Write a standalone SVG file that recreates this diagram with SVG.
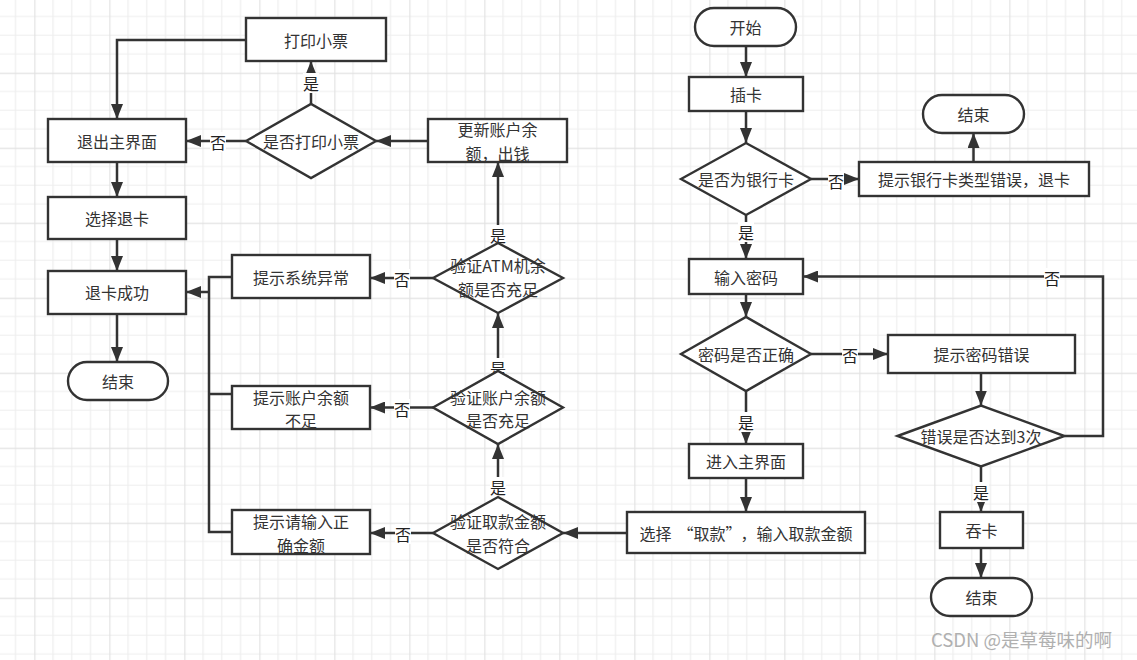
<svg xmlns="http://www.w3.org/2000/svg" width="1137" height="660" viewBox="0 0 1137 660">
<style>
.box{fill:#fff;stroke:#333;stroke-width:2.4}
.t{font-family:"Noto Sans CJK SC","Liberation Sans",sans-serif;font-size:16px;fill:#333;text-anchor:middle;dominant-baseline:central}
.c{fill:none;stroke:#333;stroke-width:2.5;marker-end:url(#ah)}
.cn{fill:none;stroke:#333;stroke-width:2.5}
.lb{fill:#fff}
.lt{font-family:"Noto Sans CJK SC","Liberation Sans",sans-serif;font-size:16px;fill:#222;text-anchor:middle;dominant-baseline:central}
</style>
<defs>
<pattern id="grid" x="34.3" y="72.7" width="75" height="75" patternUnits="userSpaceOnUse">
<path d="M18.75 0V75M37.5 0V75M56.25 0V75M0 18.75H75M0 37.5H75M0 56.25H75" stroke="#eeeeee" stroke-width="1.2" fill="none"/>
<path d="M0.6 0V75M0 0.6H75" stroke="#e2e2e2" stroke-width="1.2" fill="none"/>
</pattern>
<marker id="ah" markerUnits="userSpaceOnUse" markerWidth="15" markerHeight="12" refX="15" refY="6" orient="auto">
<path d="M0,0 L15,6 L0,12 z" fill="#333"/>
</marker>
</defs>
<rect width="1137" height="660" fill="#fff"/>
<rect width="1137" height="660" fill="url(#grid)"/>

<g id="connectors">
<path class="c" d="M746 46V77"/>
<path class="c" d="M746 111V143"/>
<path class="c" d="M811 179H859"/>
<path class="c" d="M973.5 162V133"/>
<path class="c" d="M746 215V259"/>
<path class="c" d="M746 294V317"/>
<path class="c" d="M811 354H888"/>
<path class="c" d="M981 373V405.5"/>
<path class="c" d="M1064.5 436H1103V276.5H803"/>
<path class="c" d="M981 466.5V512"/>
<path class="c" d="M981 548V578"/>
<path class="c" d="M746 391V444"/>
<path class="c" d="M746 478V512"/>
<path class="c" d="M627 533H563"/>
<path class="c" d="M433 533H370"/>
<path class="c" d="M498 497V444"/>
<path class="c" d="M433 407.5H370"/>
<path class="c" d="M498 371V313"/>
<path class="c" d="M433 278H370"/>
<path class="c" d="M498 243V162"/>
<path class="c" d="M428 141H376"/>
<path class="c" d="M246 141H186"/>
<path class="c" d="M311 104V61"/>
<path class="c" d="M246 40H117V119"/>
<path class="c" d="M117 162V197"/>
<path class="c" d="M117 239V271"/>
<path class="c" d="M117 314V362"/>
<path class="cn" d="M232 277H209V532H232M232 394H209"/>
<path class="c" d="M209 292H186"/>
<g id="labels">
<rect class="lb" x="828" y="171" width="16" height="20"/><text class="lt" x="836" y="181">否</text>
<rect class="lb" x="738" y="222" width="16" height="20"/><text class="lt" x="746" y="232">是</text>
<rect class="lb" x="842" y="345" width="16" height="20"/><text class="lt" x="850" y="355">否</text>
<rect class="lb" x="1044" y="268" width="16" height="20"/><text class="lt" x="1052" y="278">否</text>
<rect class="lb" x="973" y="482" width="16" height="20"/><text class="lt" x="981" y="492">是</text>
<rect class="lb" x="738" y="412" width="16" height="20"/><text class="lt" x="746" y="422">是</text>
<rect class="lb" x="395" y="524" width="16" height="20"/><text class="lt" x="403" y="534">否</text>
<rect class="lb" x="490" y="477" width="16" height="20"/><text class="lt" x="498" y="487">是</text>
<rect class="lb" x="394" y="399" width="16" height="20"/><text class="lt" x="402" y="409">否</text>
<rect class="lb" x="490" y="358" width="16" height="20"/><text class="lt" x="498" y="368">是</text>
<rect class="lb" x="394" y="269" width="16" height="20"/><text class="lt" x="402" y="279">否</text>
<rect class="lb" x="490" y="225" width="16" height="20"/><text class="lt" x="498" y="235">是</text>
<rect class="lb" x="210" y="132" width="16" height="20"/><text class="lt" x="218" y="142">否</text>
<rect class="lb" x="303" y="73" width="16" height="20"/><text class="lt" x="311" y="83">是</text>
</g>
</g>

<g id="n_print"><rect class="box" x="246" y="18" width="140" height="43"/><text class="t" x="316" y="40">打印小票</text></g>
<g id="n_exit"><rect class="box" x="48" y="119" width="138" height="43"/><text class="t" x="117" y="141">退出主界面</text></g>
<g id="d_print"><polygon class="box" points="246,141 311,104 376,141 311,178"/><text class="t" x="311" y="141">是否打印小票</text></g>
<g id="n_selquit"><rect class="box" x="48" y="197" width="138" height="42"/><text class="t" x="117" y="218">选择退卡</text></g>
<g id="n_quitok"><rect class="box" x="48" y="271" width="138" height="43"/><text class="t" x="117" y="292">退卡成功</text></g>
<g id="n_end1"><rect class="box" x="68" y="362" width="100" height="38" rx="19"/><text class="t" x="118" y="381">结束</text></g>
<g id="n_update"><rect class="box" x="428" y="119" width="139" height="43"/><text class="t"><tspan x="497.5" y="129">更新账户余</tspan><tspan x="497.5" dy="23.5">额，出钱</tspan></text></g>
<g id="d_atm"><polygon class="box" points="433,278 498,243 563,278 498,313"/><text class="t"><tspan x="498" y="265">验证ATM机余</tspan><tspan x="498" dy="23.5">额是否充足</tspan></text></g>
<g id="n_syserr"><rect class="box" x="232" y="255" width="138" height="43"/><text class="t" x="301" y="276.5">提示系统异常</text></g>
<g id="d_bal"><polygon class="box" points="433,407.5 498,371 563,407.5 498,444"/><text class="t"><tspan x="498" y="396.5">验证账户余额</tspan><tspan x="498" dy="23.5">是否充足</tspan></text></g>
<g id="n_balerr"><rect class="box" x="232" y="386" width="138" height="43"/><text class="t"><tspan x="301" y="396.5">提示账户余额</tspan><tspan x="301" dy="23.5">不足</tspan></text></g>
<g id="d_amt"><polygon class="box" points="433,533 498,497 563,533 498,569"/><text class="t"><tspan x="498" y="521">验证取款金额</tspan><tspan x="498" dy="23.5">是否符合</tspan></text></g>
<g id="n_amterr"><rect class="box" x="232" y="510" width="138" height="44"/><text class="t"><tspan x="301" y="521">提示请输入正</tspan><tspan x="301" dy="23.5">确金额</tspan></text></g>
<g id="n_select"><rect class="box" x="627" y="512" width="238" height="41"/><text class="t" x="746" y="532.5">选择<tspan dx="6">“</tspan>取款”<tspan dx="7">，</tspan>输入取款金额</text></g>
<g id="n_start"><rect class="box" x="695" y="8" width="101" height="38" rx="19"/><text class="t" x="745.5" y="27">开始</text></g>
<g id="n_insert"><rect class="box" x="689" y="77" width="114" height="34"/><text class="t" x="746" y="94">插卡</text></g>
<g id="d_bank"><polygon class="box" points="681,179 746,143 811,179 746,215"/><text class="t" x="746" y="179">是否为银行卡</text></g>
<g id="n_cardtype"><rect class="box" x="859" y="162" width="230" height="34"/><text class="t" x="974" y="179">提示银行卡类型错误，退卡</text></g>
<g id="n_end2"><rect class="box" x="923" y="95" width="101" height="38" rx="19"/><text class="t" x="973.5" y="114">结束</text></g>
<g id="n_pwd"><rect class="box" x="689" y="259" width="114" height="35"/><text class="t" x="746" y="276.5">输入密码</text></g>
<g id="d_pwd"><polygon class="box" points="681,354 746,317 811,354 746,391"/><text class="t" x="746" y="354">密码是否正确</text></g>
<g id="n_pwderr"><rect class="box" x="888" y="335" width="187" height="38"/><text class="t" x="981.5" y="354">提示密码错误</text></g>
<g id="d_3"><polygon class="box" points="897.5,436 981,405.5 1064.5,436 981,466.5"/><text class="t" x="981" y="436">错误是否达到3次</text></g>
<g id="n_swallow"><rect class="box" x="940" y="512" width="83" height="36"/><text class="t" x="981.5" y="530">吞卡</text></g>
<g id="n_end3"><rect class="box" x="931" y="578" width="101" height="38" rx="19"/><text class="t" x="981.5" y="597">结束</text></g>
<g id="n_main"><rect class="box" x="689" y="444" width="114" height="34"/><text class="t" x="746" y="461">进入主界面</text></g>

<text x="931" y="647" font-family="'Noto Sans CJK SC','Liberation Sans',sans-serif" font-size="18.5" fill="#b0b0b0">CSDN @是草莓味的啊</text>
</svg>
